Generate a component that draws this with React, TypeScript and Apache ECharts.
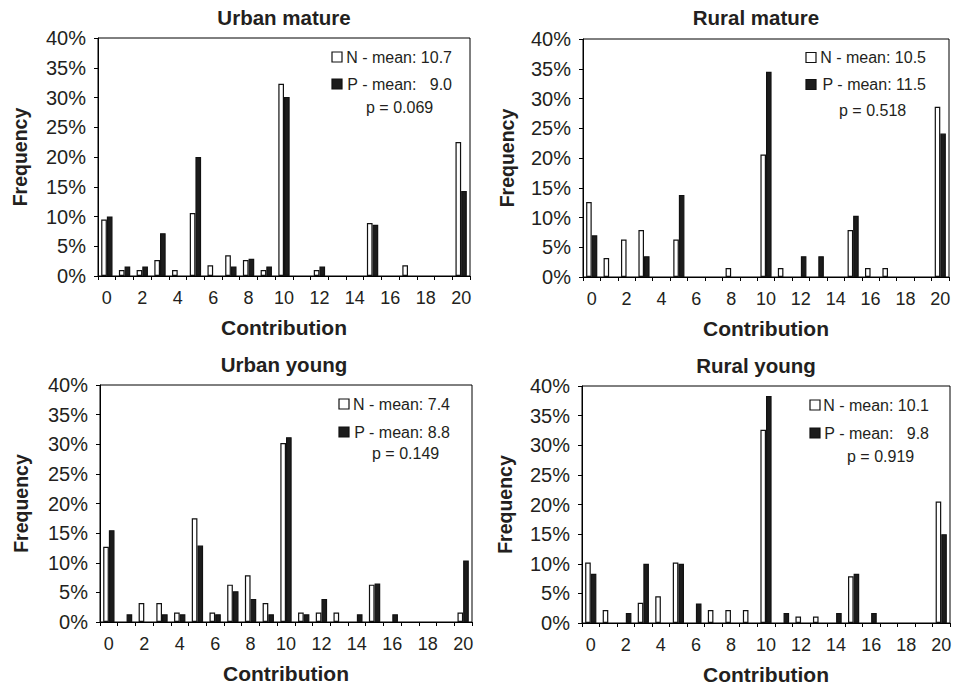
import React, { useEffect, useRef } from 'react';
import * as echarts from 'echarts';

const categories = ['0','1','2','3','4','5','6','7','8','9','10','11','12','13','14','15','16','17','18','19','20'];

const panelTitles = ['Urban mature', 'Rural mature', 'Urban young', 'Rural young'];

const urbanMatureN = [9.5, 1.0, 1.0, 2.7, 1.0, 10.6, 1.8, 3.5, 2.7, 1.0, 32.3, 0, 1.0, 0, 0, 8.9, 0, 1.8, 0, 0, 22.5];
const urbanMatureP = [10.0, 1.6, 1.6, 7.2, 0, 20.0, 0, 1.6, 2.9, 1.6, 30.1, 0, 1.6, 0, 0, 8.6, 0, 0, 0, 0, 14.3];
const ruralMatureN = [12.6, 3.2, 6.3, 7.9, 0, 6.3, 0, 0, 1.5, 0, 20.6, 1.5, 0, 0, 0, 7.9, 1.5, 1.5, 0, 0, 28.6];
const ruralMatureP = [7.0, 0, 0, 3.5, 0, 13.8, 0, 0, 0, 0, 34.5, 0, 3.5, 3.5, 0, 10.3, 0, 0, 0, 0, 24.1];
const urbanYoungN = [12.7, 0, 3.2, 3.2, 1.6, 17.5, 1.6, 6.3, 7.9, 3.2, 30.2, 1.6, 1.6, 1.6, 0, 6.3, 0, 0, 0, 0, 1.6];
const urbanYoungP = [15.5, 1.3, 0, 1.3, 1.3, 12.9, 1.3, 5.2, 3.9, 1.3, 31.2, 1.3, 3.9, 0, 1.3, 6.5, 1.3, 0, 0, 0, 10.4];
const ruralYoungN = [10.2, 2.2, 0, 3.4, 4.5, 10.2, 0, 2.2, 2.2, 2.2, 32.6, 0, 1.1, 1.1, 0, 7.9, 0, 0, 0, 0, 20.5];
const ruralYoungP = [8.3, 0, 1.7, 10.0, 0, 10.0, 3.3, 0, 0, 0, 38.3, 1.7, 0, 0, 1.7, 8.3, 1.7, 0, 0, 0, 15.0];

const nSeries = [urbanMatureN, ruralMatureN, urbanYoungN, ruralYoungN];
const pSeries = [urbanMatureP, ruralMatureP, urbanYoungP, ruralYoungP];

const nMeanLabels = ['N - mean: 10.7', 'N - mean: 10.5', 'N - mean: 7.4', 'N - mean: 10.1'];
const pMeanLabels = ['P - mean:\u00a0\u00a0\u00a09.0', 'P - mean: 11.5', 'P - mean: 8.8', 'P - mean:\u00a0\u00a0\u00a09.8'];
const pValueLabels = ['p = 0.069', 'p = 0.518', 'p = 0.149', 'p = 0.919'];

// layout
const grids = [
  { left: 98, top: 38, width: 372, height: 238 },
  { left: 583, top: 39, width: 366, height: 238 },
  { left: 100, top: 385, width: 372, height: 237 },
  { left: 582, top: 386, width: 368, height: 237 },
];
const titlePos = [
  { x: 284, y: 7 },
  { x: 756, y: 7 },
  { x: 284, y: 354 },
  { x: 756, y: 355 },
];
// legend: icon left x, right edge of row text, first row centre y, second row centre y
const legendPos = [
  { x: 332, r: 452, y1: 57, y2: 84 },
  { x: 806, r: 926, y1: 57.5, y2: 84.5 },
  { x: 339, r: 450, y1: 404, y2: 432 },
  { x: 810, r: 929, y1: 405, y2: 433 },
];
const pTextPos = [
  { x: 366, y: 107 },
  { x: 839, y: 110 },
  { x: 372, y: 453 },
  { x: 847, y: 456 },
];
const yNameGap = [68, 66, 69, 67];

const FONT = "'Liberation Sans', Arial, Helvetica, sans-serif";
const TEXT = '#231f20';

export default function App() {
  const ref = useRef<HTMLDivElement>(null);
  useEffect(() => {
    if (!ref.current) return;
    const chart = echarts.init(ref.current, null, { renderer: 'svg' });
    const idx = [0, 1, 2, 3];
    const txt = (x: number, y: number, text: string, align: string) => ({
      type: 'text',
      x,
      y,
      style: { text, fontSize: 16, fontFamily: FONT, fill: TEXT, verticalAlign: 'middle', align },
    });
    const legendGraphics = idx.flatMap((i) => {
      const L = legendPos[i];
      return [
        { type: 'rect', shape: { x: L.x, y: L.y1 - 5, width: 10, height: 10 }, style: { fill: '#fff', stroke: '#111', lineWidth: 1.2 } },
        txt(L.r, L.y1, nMeanLabels[i], 'right'),
        { type: 'rect', shape: { x: L.x, y: L.y2 - 5, width: 10, height: 10 }, style: { fill: '#1c1c1c', stroke: '#111', lineWidth: 1.2 } },
        txt(L.r, L.y2, pMeanLabels[i], 'right'),
        txt(pTextPos[i].x, pTextPos[i].y, pValueLabels[i], 'left'),
      ];
    });
    const option: any = {
      animation: false,
      backgroundColor: '#fff',
      textStyle: { fontFamily: FONT },
      title: idx.map((i) => ({
        text: panelTitles[i],
        left: titlePos[i].x,
        top: titlePos[i].y,
        textAlign: 'center',
        padding: 0,
        textStyle: { fontFamily: FONT, fontSize: 20.5, fontWeight: 'bold', color: TEXT },
      })),
      grid: idx.map((i) => ({
        left: grids[i].left,
        top: grids[i].top,
        width: grids[i].width,
        height: grids[i].height,
        show: true,
        borderColor: '#000',
        borderWidth: 1,
        backgroundColor: 'transparent',
        containLabel: false,
      })),
      xAxis: idx.map((i) => ({
        type: 'category',
        gridIndex: i,
        data: categories,
        boundaryGap: true,
        name: 'Contribution',
        nameLocation: 'middle',
        nameGap: 41,
        nameTextStyle: { fontFamily: FONT, fontSize: 21, fontWeight: 'bold', color: TEXT },
        axisLine: { lineStyle: { color: '#000', width: 1 } },
        axisTick: { show: true, interval: 0, length: 4, lineStyle: { color: '#000' } },
        axisLabel: { interval: 1, margin: 13, fontSize: 18, color: TEXT, fontFamily: FONT },
        splitLine: { show: false },
      })),
      yAxis: idx.map((i) => ({
        type: 'value',
        gridIndex: i,
        min: 0,
        max: 40,
        interval: 5,
        name: 'Frequency',
        nameLocation: 'middle',
        nameGap: yNameGap[i],
        nameRotate: 90,
        nameTextStyle: { fontFamily: FONT, fontSize: 19.5, fontWeight: 'bold', color: TEXT },
        axisLine: { show: true, lineStyle: { color: '#000', width: 1 } },
        axisTick: { show: true, length: 4, lineStyle: { color: '#000' } },
        axisLabel: { formatter: '{value}%', margin: 12, fontSize: 20, color: TEXT, fontFamily: FONT },
        splitLine: { show: false },
      })),
      graphic: legendGraphics,
      series: idx.flatMap((i) => [
        {
          name: 'N',
          type: 'bar',
          xAxisIndex: i,
          yAxisIndex: i,
          data: nSeries[i].map((v) => (v === 0 ? null : v)),
          barGap: '0%',
          barCategoryGap: '36%',
          itemStyle: { color: '#ffffff', borderColor: '#111', borderWidth: 1.2 },
          emphasis: { disabled: true },
        },
        {
          name: 'P',
          type: 'bar',
          xAxisIndex: i,
          yAxisIndex: i,
          data: pSeries[i].map((v) => (v === 0 ? null : v)),
          barGap: '0%',
          barCategoryGap: '36%',
          itemStyle: { color: '#1c1c1c', borderColor: '#111', borderWidth: 1.2 },
          emphasis: { disabled: true },
        },
      ]),
    };
    chart.setOption(option);
    return () => chart.dispose();
  }, []);
  return (
    <div
      ref={ref}
      style={{ position: 'fixed', left: 0, top: 0, width: 956, height: 688, background: '#fff' }}
    />
  );
}
